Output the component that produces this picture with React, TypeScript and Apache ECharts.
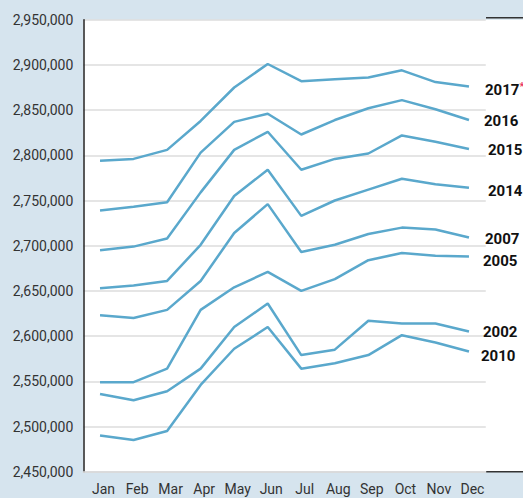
import React, { useEffect, useRef } from 'react';
import * as echarts from 'echarts';

const months = ['Jan', 'Feb', 'Mar', 'Apr', 'May', 'Jun', 'Jul', 'Aug', 'Sep', 'Oct', 'Nov', 'Dec'];

const y2017 = [2794000, 2796000, 2806000, 2838000, 2875000, 2901000, 2882000, 2884000, 2886000, 2894000, 2881000, 2876000];
const y2016 = [2739000, 2743000, 2748000, 2803000, 2837000, 2846000, 2823000, 2839000, 2852000, 2861000, 2851000, 2839000];
const y2015 = [2695000, 2699000, 2708000, 2759000, 2806000, 2826000, 2784000, 2796000, 2802000, 2822000, 2815000, 2807000];
const y2014 = [2653000, 2656000, 2661000, 2701000, 2755000, 2784000, 2733000, 2750000, 2762000, 2774000, 2768000, 2764000];
const y2007 = [2623000, 2620000, 2629000, 2661000, 2714000, 2746000, 2693000, 2701000, 2713000, 2720000, 2718000, 2709000];
const y2005 = [2549000, 2549000, 2564000, 2629000, 2654000, 2671000, 2650000, 2663000, 2684000, 2692000, 2689000, 2688000];
const y2002 = [2536000, 2529000, 2539000, 2564000, 2610000, 2636000, 2579000, 2585000, 2617000, 2614000, 2614000, 2605000];
const y2010 = [2490000, 2485000, 2495000, 2546000, 2586000, 2610000, 2564000, 2570000, 2579000, 2601000, 2593000, 2583000];

const seriesNames = ['2017', '2016', '2015', '2014', '2007', '2005', '2002', '2010'];
const seriesData = [y2017, y2016, y2015, y2014, y2007, y2005, y2002, y2010];

const yMin = 2450000;
const yMax = 2950000;
const yStep = 50000;

// label placement tweaks (style, not data)
const labelOffsets: Record<string, [number, number]> = {
  '2017': [8, 3],
  '2016': [7, 1],
  '2015': [11, 1],
  '2014': [11, 3],
  '2007': [8, 1],
  '2005': [6, 4],
  '2002': [6, 0],
  '2010': [4, 5],
};

const FONT = 'Roboto, "Liberation Sans", sans-serif';
const LINE_COLOR = '#5aa8cc';

export default function App() {
  const ref = useRef<HTMLDivElement>(null);
  useEffect(() => {
    document.body.style.margin = '0';
    const chart = echarts.init(ref.current!, null, { renderer: 'svg' });
    const gridLeft = 83.25;
    const gridTop = 19.7;
    const gridBottom = 26.3;
    const gridRight = 37.25;
    chart.setOption({
      animation: false,
      backgroundColor: '#d6e4ee',
      textStyle: { fontFamily: FONT },
      grid: { left: gridLeft, right: gridRight, top: gridTop, bottom: gridBottom, containLabel: false },
      graphic: [
        {
          type: 'rect',
          z: -10,
          shape: { x: gridLeft, y: gridTop, width: 523 - gridLeft, height: 498 - gridTop - gridBottom },
          style: { fill: '#ffffff' },
          silent: true,
        },
        {
          type: 'line',
          shape: { x1: 486, y1: 17.8, x2: 523, y2: 17.8 },
          style: { stroke: '#333333', lineWidth: 1.5 },
          silent: true,
        },
        {
          type: 'line',
          shape: { x1: 486, y1: 471.7, x2: 523, y2: 471.7 },
          style: { stroke: '#333333', lineWidth: 1.5 },
          silent: true,
        },
      ],
      xAxis: {
        type: 'category',
        data: months,
        boundaryGap: true,
        axisLine: { show: true, lineStyle: { color: '#d9d9d9', width: 1.5 } },
        axisTick: { show: false },
        axisLabel: {
          interval: 0,
          color: '#333333',
          fontSize: 14,
          fontFamily: FONT,
          margin: 10,
          padding: [0, 0, 0, 7],
        },
        splitLine: { show: false },
      },
      yAxis: {
        type: 'value',
        min: yMin,
        max: yMax,
        interval: yStep,
        axisLine: { show: true, lineStyle: { color: '#222222', width: 1.5 } },
        axisTick: { show: false },
        axisLabel: {
          color: '#333333',
          fontSize: 14,
          fontFamily: FONT,
          margin: 10,
          formatter: (v: number) => v.toLocaleString('en-US'),
        },
        splitLine: { show: true, lineStyle: { color: '#dcdcdc', width: 1.5 } },
      },
      series: seriesNames.map((name, i) => ({
        type: 'line',
        name,
        data: seriesData[i],
        symbol: 'none',
        lineStyle: { color: LINE_COLOR, width: 2.5 },
        itemStyle: { color: LINE_COLOR },
        z: 3,
        endLabel: {
          show: true,
          offset: labelOffsets[name],
          formatter: name === '2017' ? '{y|2017}{s|*}' : name,
          color: '#111111',
          fontWeight: 'bold',
          fontSize: 15,
          fontFamily: FONT,
          rich: {
            y: { color: '#111111', fontWeight: 'bold', fontSize: 15, fontFamily: FONT },
            s: { color: '#e8305a', fontWeight: 'bold', fontSize: 11, fontFamily: FONT, verticalAlign: 'top', padding: [0, 0, 6, 0] },
          },
        },
      })),
    });
    return () => chart.dispose();
  }, []);
  return <div ref={ref} style={{ width: 523, height: 498 }} />;
}
